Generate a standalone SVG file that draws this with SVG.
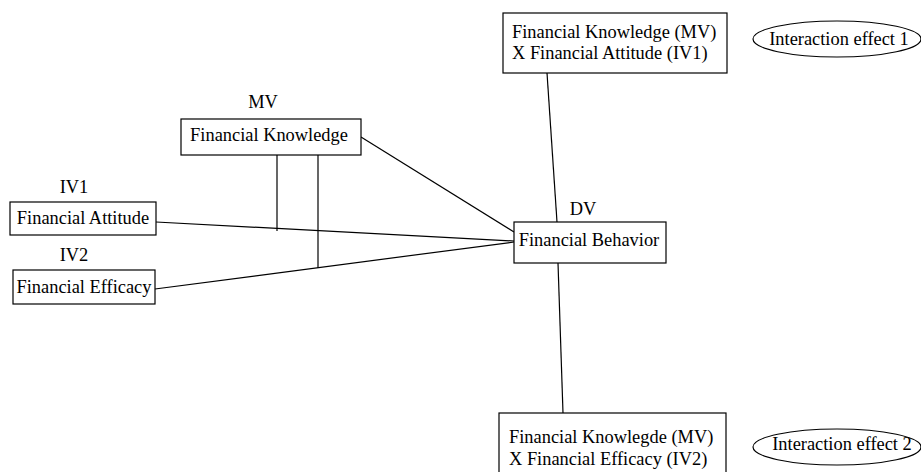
<svg xmlns="http://www.w3.org/2000/svg" width="921" height="472" viewBox="0 0 921 472">
<style>
.box{fill:#fff;stroke:#000;stroke-width:1.2}
.t{font-family:'Liberation Serif','Times New Roman','DejaVu Serif',serif;font-size:18.4px;fill:#000}
.m{text-anchor:middle}
.c{stroke:#000;stroke-width:1.2;fill:none}
</style>
<rect width="921" height="472" fill="#fff"/>
<g id="connectors">
<line class="c" x1="156" y1="222" x2="514" y2="241"/>
<line class="c" x1="155" y1="289" x2="514" y2="242"/>
<line class="c" x1="361" y1="137" x2="514" y2="232"/>
<line class="c" x1="277" y1="155" x2="277" y2="231"/>
<line class="c" x1="318" y1="155" x2="318" y2="268"/>
<line class="c" x1="547" y1="73" x2="557" y2="222"/>
<line class="c" x1="558" y1="263" x2="563" y2="413"/>
</g>
<g id="mv">
<text class="t m" x="263" y="108">MV</text>
<rect class="box" x="181" y="119" width="180" height="36"/>
<text class="t m" x="269" y="141">Financial Knowledge</text>
</g>
<g id="iv1">
<text class="t m" x="74" y="193">IV1</text>
<rect class="box" x="10" y="202" width="146" height="33"/>
<text class="t m" x="83" y="224">Financial Attitude</text>
</g>
<g id="iv2">
<text class="t m" x="74" y="261">IV2</text>
<rect class="box" x="13" y="270" width="142" height="34"/>
<text class="t m" x="84" y="293">Financial Efficacy</text>
</g>
<g id="dv">
<text class="t m" x="583" y="215">DV</text>
<rect class="box" x="514" y="222" width="152" height="41"/>
<text class="t m" x="589" y="246">Financial Behavior</text>
</g>
<g id="int1">
<rect class="box" x="503" y="13" width="224" height="60"/>
<text class="t" x="512" y="38">Financial Knowledge (MV)</text>
<text class="t" x="512" y="59">X Financial Attitude (IV1)</text>
</g>
<g id="int2">
<rect class="box" x="499" y="413" width="227" height="70"/>
<text class="t" x="509" y="443">Financial Knowlegde (MV)</text>
<text class="t" x="509" y="465">X Financial Efficacy (IV2)</text>
</g>
<g id="effect1">
<ellipse class="box" cx="837" cy="39" rx="84" ry="18"/>
<text class="t m" x="839" y="45">Interaction effect 1</text>
</g>
<g id="effect2">
<ellipse class="box" cx="837" cy="447" rx="84" ry="18"/>
<text class="t m" x="842" y="450">Interaction effect 2</text>
</g>
</svg>
